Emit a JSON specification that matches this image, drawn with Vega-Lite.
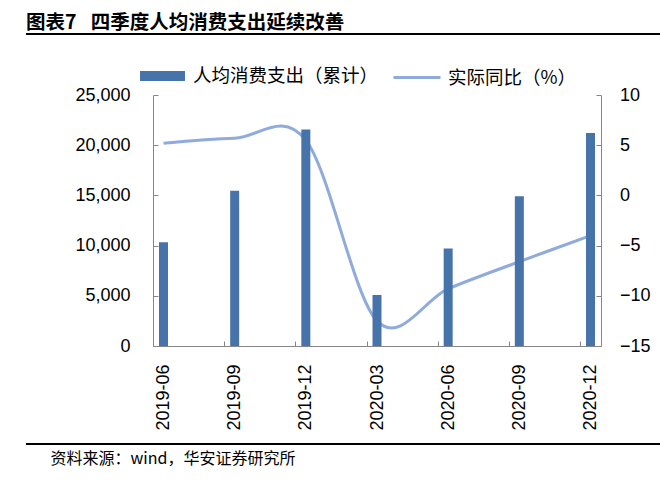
{
  "$schema": "https://vega.github.io/schema/vega-lite/v6.json",
  "width": 634,
  "height": 410,
  "autosize": {"type": "none"},
  "padding": {"left": 26, "top": 34, "right": 0, "bottom": 38},
  "background": "white",
  "config": {
    "view": {"stroke": "#000000", "strokeWidth": 2, "strokeDash": [634, 410, 634, 410]},
    "font": "Liberation Sans",
    "axis": {
      "grid": false,
      "domainColor": "#868686",
      "tickColor": "#868686",
      "tickSize": -5,
      "labelFont": "Liberation Sans",
      "labelFontSize": 18,
      "labelColor": "#000000"
    }
  },
  "title": {
    "text": "图表7\u2002\u00a0四季度人均消费支出延续改善",
    "anchor": "start",
    "frame": "group",
    "font": "Noto Sans CJK SC",
    "fontSize": 19.5,
    "fontWeight": "bold",
    "color": "#000000",
    "baseline": "bottom",
    "offset": 5,
    "dy": 23
  },
  "data": {
    "values": [
      {"date": "2019-06", "spend": 10330, "yoy": 5.2},
      {"date": "2019-09", "spend": 15464, "yoy": 5.7},
      {"date": "2019-12", "spend": 21559, "yoy": 5.5},
      {"date": "2020-03", "spend": 5082, "yoy": -12.5},
      {"date": "2020-06", "spend": 9718, "yoy": -9.3},
      {"date": "2020-09", "spend": 14923, "yoy": -6.6},
      {"date": "2020-12", "spend": 21210, "yoy": -4.0}
    ]
  },
  "layer": [
    {
      "mark": {"type": "line", "interpolate": "cardinal", "strokeWidth": 3},
      "encoding": {
        "x": {
          "field": "date", "type": "nominal", "sort": null,
          "scale": {"type": "band", "range": [127, 575], "paddingInner": 0.8735, "paddingOuter": 0.0843},
          "axis": {
            "orient": "bottom", "offset": -98, "labelAngle": -90, "labelPadding": 23,
            "tickOffset": -10.5, "labelOffset": 10.5,
            "title": "资料来源：wind，华安证券研究所",
            "titleX": 24, "titleY": 112, "titleAlign": "left", "titleBaseline": "middle",
            "titleFont": "Noto Sans CJK SC", "titleFontSize": 16, "titleFontWeight": "normal", "titleColor": "#000000"
          }
        },
        "y": {
          "field": "yoy", "type": "quantitative",
          "scale": {"domain": [-15, 10], "range": [312, 61], "nice": false, "zero": false},
          "axis": {"orient": "right", "offset": -59, "values": [-15, -10, -5, 0, 5, 10], "format": "d", "labelPadding": 23.5, "title": null}
        },
        "stroke": {
          "datum": "实际同比（%）",
          "scale": {"range": ["#8FAADC"]},
          "legend": {
            "orient": "none", "legendX": 366, "legendY": 18.5, "padding": 0, "title": null,
            "symbolType": "stroke", "symbolSize": 2209, "symbolStrokeWidth": 3,
            "labelFont": "Noto Sans CJK SC", "labelFontSize": 18.5, "labelColor": "#000000", "labelOffset": 6, "labelLimit": 400
          }
        }
      }
    },
    {
      "mark": {"type": "bar"},
      "encoding": {
        "x": {
          "field": "date", "type": "nominal", "sort": null,
          "scale": {"type": "band", "range": [127, 575], "paddingInner": 0.8735, "paddingOuter": 0.0843}
        },
        "y": {
          "field": "spend", "type": "quantitative",
          "scale": {"domain": [0, 25000], "range": [312, 61], "nice": false},
          "axis": {"orient": "left", "offset": -127, "values": [0, 5000, 10000, 15000, 20000, 25000], "format": ",.0f", "labelPadding": 28, "title": null}
        },
        "fill": {
          "datum": "人均消费支出（累计）",
          "scale": {"range": ["#4673AA"]},
          "legend": {
            "orient": "none", "legendX": 114, "legendY": 19.5, "padding": 0, "title": null,
            "symbolType": "M-1,-0.22H1V0.22H-1Z", "symbolSize": 2025, "symbolStrokeWidth": 0,
            "labelFont": "Noto Sans CJK SC", "labelFontSize": 18.5, "labelColor": "#000000", "labelOffset": 8, "labelLimit": 400
          }
        }
      }
    }
  ],
  "resolve": {"scale": {"y": "independent"}}
}
